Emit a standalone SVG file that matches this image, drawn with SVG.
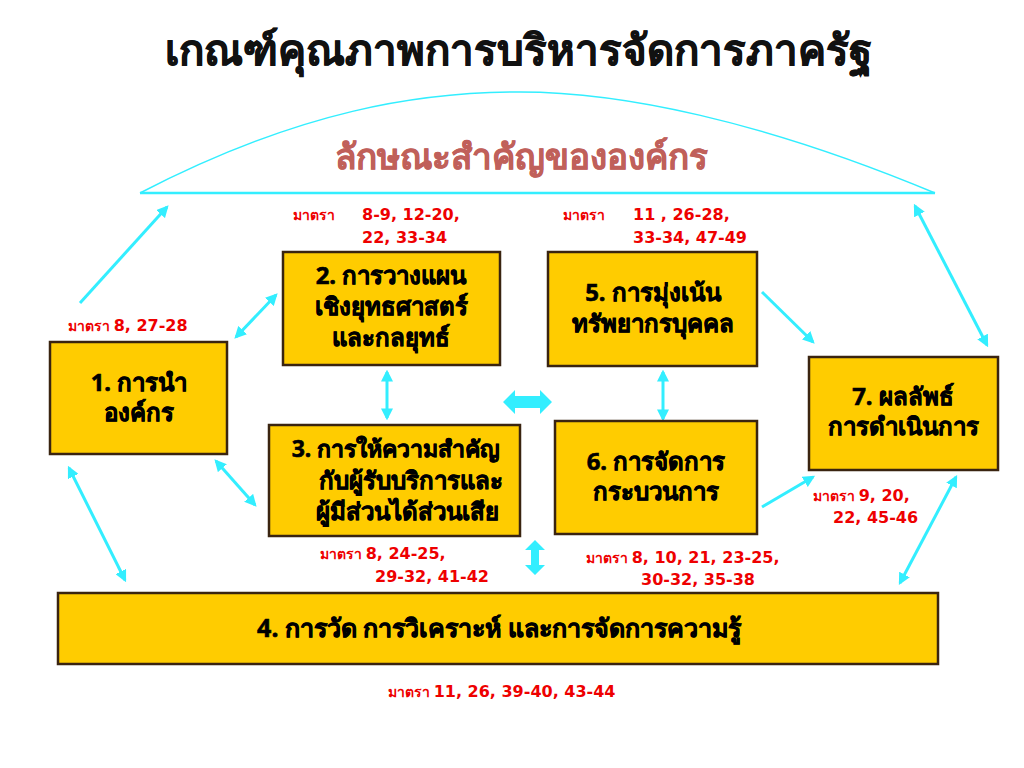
<svg xmlns="http://www.w3.org/2000/svg" width="1024" height="768" viewBox="0 0 1024 768">
<defs>
<marker id="ah" viewBox="0 0 10 10" refX="8" refY="5" markerWidth="4" markerHeight="4" orient="auto-start-reverse">
<path d="M0,0 L10,5 L0,10 z" fill="#33EEFF"/>
</marker>
<style>
.box{fill:#FFCC00;stroke:#3A2410;stroke-width:2.5}
.bt{font-family:"Noto Sans","DejaVu Sans",sans-serif;font-weight:bold;font-size:24px;fill:#000;stroke:#000;stroke-width:0.6;text-anchor:middle}
.red{font-family:"DejaVu Sans","Noto Sans",sans-serif;font-weight:bold;font-size:16px;fill:#EE0000}
.m{font-family:"Noto Sans",sans-serif;font-size:14px}
.c{stroke:#33EEFF;stroke-width:3;fill:none}
.cs{stroke:#33EEFF;stroke-width:1.5;fill:none}
.blk{fill:#33EEFF}
</style>
</defs>
<rect width="1024" height="768" fill="#fff"/>
<text x="518" y="65" font-family="'Noto Sans','DejaVu Sans',sans-serif" font-weight="bold" font-size="42" fill="#111" stroke="#111" stroke-width="0.6" text-anchor="middle">เกณฑ์คุณภาพการบริหารจัดการภาครัฐ</text>
<g id="arc">
<path class="cs" d="M140,193 C300,110 420,92 520,92 C620,92 760,120 935,193"/>
<line x1="140" y1="193" x2="935" y2="193" stroke="#33EEFF" stroke-width="2.5"/>
<text x="521" y="169" font-family="'Noto Sans','DejaVu Sans',sans-serif" font-weight="bold" font-size="35" fill="#C0605A" stroke="#C0605A" stroke-width="0.5" text-anchor="middle">ลักษณะสำคัญขององค์กร</text>
</g>
<g id="connectors">
<line class="c" x1="80" y1="303" x2="167" y2="207" marker-end="url(#ah)"/>
<line class="c" x1="236" y1="337" x2="276" y2="295" marker-start="url(#ah)" marker-end="url(#ah)"/>
<line class="c" x1="387" y1="372" x2="387" y2="418" marker-start="url(#ah)" marker-end="url(#ah)"/>
<line class="c" x1="216" y1="461" x2="255" y2="505" marker-start="url(#ah)" marker-end="url(#ah)"/>
<line class="c" x1="69" y1="468" x2="125" y2="580" marker-start="url(#ah)" marker-end="url(#ah)"/>
<line class="c" x1="663" y1="372" x2="663" y2="419" marker-start="url(#ah)" marker-end="url(#ah)"/>
<line class="c" x1="762" y1="292" x2="813" y2="342" marker-end="url(#ah)"/>
<line class="c" x1="762" y1="507" x2="813" y2="477" marker-end="url(#ah)"/>
<line class="c" x1="915" y1="206" x2="987" y2="345" marker-start="url(#ah)" marker-end="url(#ah)"/>
<line class="c" x1="956" y1="477" x2="900" y2="583" marker-start="url(#ah)" marker-end="url(#ah)"/>
<path class="blk" d="M503,402 L515,390 L515,396 L540,396 L540,390 L552,402 L540,414 L540,408 L515,408 L515,414 z"/>
<path class="blk" d="M535,540 L545,550 L539,550 L539,565 L545,565 L535,575 L525,565 L531,565 L531,550 L525,550 z"/>
</g>
<g id="node1">
<rect class="box" x="50" y="342" width="177" height="112"/>
<text class="bt" x="139" y="391">1. การนำ</text>
<text class="bt" x="139" y="421">องค์กร</text>
</g>
<g id="node2">
<rect class="box" x="283" y="252" width="217" height="113"/>
<text class="bt" x="391" y="284">2. การวางแผน</text>
<text class="bt" x="391" y="315">เชิงยุทธศาสตร์</text>
<text class="bt" x="391" y="346">และกลยุทธ์</text>
</g>
<g id="node5">
<rect class="box" x="548" y="252" width="209" height="114"/>
<text class="bt" x="653" y="301">5. การมุ่งเน้น</text>
<text class="bt" x="653" y="332">ทรัพยากรบุคคล</text>
</g>
<g id="node3">
<rect class="box" x="269" y="425" width="251" height="111"/>
<text class="bt" x="396" y="457" style="font-size:23px">3. การให้ความสำคัญ</text>
<text class="bt" x="411" y="489">กับผู้รับบริการและ</text>
<text class="bt" x="407" y="520">ผู้มีส่วนได้ส่วนเสีย</text>
</g>
<g id="node6">
<rect class="box" x="555" y="421" width="202" height="113"/>
<text class="bt" x="656" y="470">6. การจัดการ</text>
<text class="bt" x="656" y="500">กระบวนการ</text>
</g>
<g id="node7">
<rect class="box" x="809" y="357" width="189" height="113"/>
<text class="bt" x="903" y="405">7. ผลลัพธ์</text>
<text class="bt" x="903" y="435">การดำเนินการ</text>
</g>
<g id="node4">
<rect class="box" x="58" y="593" width="880" height="71"/>
<text class="bt" x="499" y="637" style="font-size:25px">4. การวัด การวิเคราะห์ และการจัดการความรู้</text>
</g>
<g id="labels">
<text class="red" x="293" y="220"><tspan class="m">มาตรา</tspan></text>
<text class="red" x="362" y="220">8-9, 12-20,</text>
<text class="red" x="362" y="243">22,  33-34</text>
<text class="red" x="563" y="220"><tspan class="m">มาตรา</tspan></text>
<text class="red" x="633" y="220">11 , 26-28,</text>
<text class="red" x="633" y="243">33-34,  47-49</text>
<text class="red" x="68" y="331"><tspan class="m">มาตรา </tspan>8,  27-28</text>
<text class="red" x="320" y="559"><tspan class="m">มาตรา </tspan>8, 24-25,</text>
<text class="red" x="375" y="582">29-32, 41-42</text>
<text class="red" x="586" y="563"><tspan class="m">มาตรา </tspan>8, 10, 21, 23-25,</text>
<text class="red" x="641" y="585">30-32, 35-38</text>
<text class="red" x="813" y="501"><tspan class="m">มาตรา </tspan>9, 20,</text>
<text class="red" x="833" y="523">22, 45-46</text>
<text class="red" x="388" y="697"><tspan class="m">มาตรา </tspan>11, 26, 39-40, 43-44</text>
</g>
</svg>
